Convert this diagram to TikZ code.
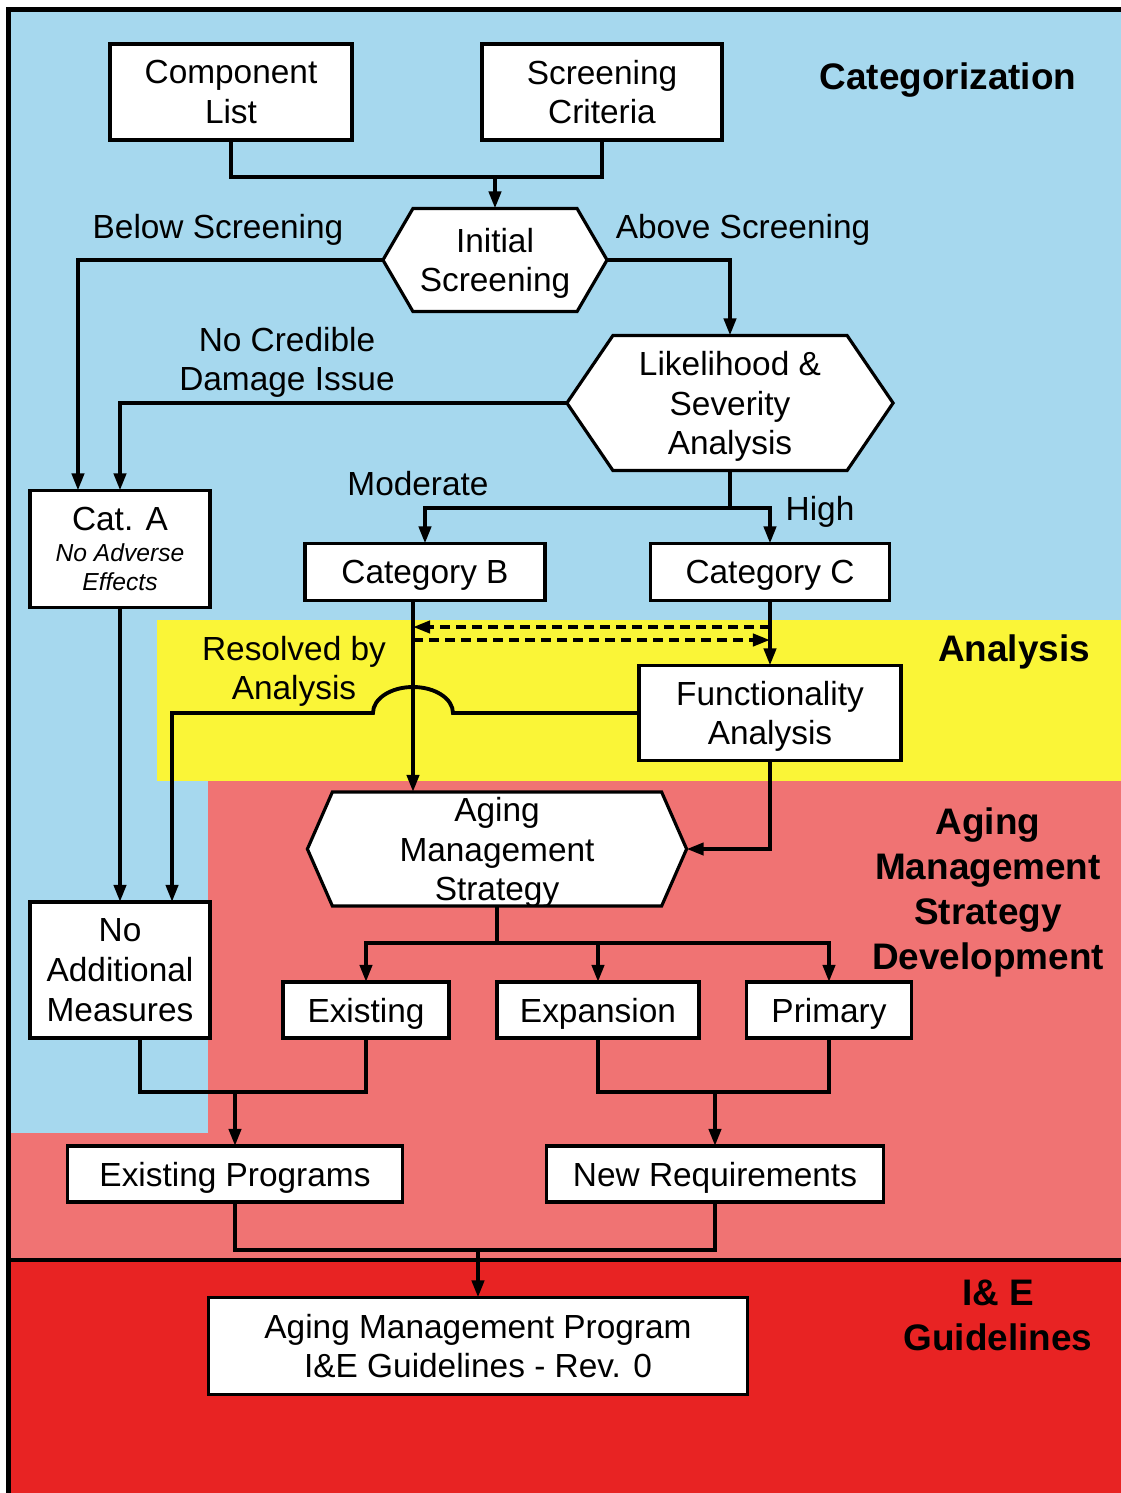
\documentclass[tikz,border=0pt]{standalone}
\usepackage{fontspec}
\setmainfont{Liberation Sans}
\usepackage{xcolor}
\usetikzlibrary{arrows.meta}

\definecolor{catblue}{RGB}{166,216,238}
\definecolor{anayellow}{RGB}{250,245,55}
\definecolor{amsred}{RGB}{240,115,115}
\definecolor{iered}{RGB}{232,35,35}

\pgfdeclarelayer{bands}
\pgfdeclarelayer{hexes}
\pgfsetlayers{bands,hexes,main}

% hexagon outline behind a named node
\newcommand\hexframe[2]{%
  \begin{pgfonlayer}{hexes}
    \filldraw[fill=white,line width=0.9pt] (#1.west) -- ([xshift=#2]#1.north west) -- ([xshift=-#2]#1.north east)
      -- (#1.east) -- ([xshift=-#2]#1.south east) -- ([xshift=#2]#1.south west) -- cycle;
  \end{pgfonlayer}}

\begin{document}
\begin{tikzpicture}[x=0.01cm,y=-0.01cm,
  box/.style={draw,fill=white,line width=0.9pt,inner sep=0pt,outer sep=0pt,align=center,text depth=0pt,font=\fontsize{9.5}{11.3}\selectfont},
  hexa/.style={inner sep=0pt,outer sep=0pt,align=center,text depth=0pt,font=\fontsize{9.5}{11.3}\selectfont},
  lbl/.style={align=center,text depth=0pt,font=\fontsize{9.5}{11.3}\selectfont},
  title/.style={align=center,text depth=0pt,font=\fontsize{10.5}{12.8}\selectfont\bfseries},
  conn/.style={line width=1.1pt},
  arr/.style={conn,-{Triangle[length=0.17cm,width=0.12cm]}}]
  \useasboundingbox (0,0) rectangle (1121,1493);

  % bands
  \begin{pgfonlayer}{bands}
    \fill[white] (0,0) rectangle (1121,1493);
    \fill[catblue] (11,11) rectangle (1121,620);
    \fill[catblue] (11,620) rectangle (208,1133);
    \fill[anayellow] (157,620) rectangle (1121,781);
    \fill[amsred] (208,781) rectangle (1121,1260);
    \fill[amsred] (11,1133) rectangle (208,1260);
    \fill[iered] (11,1260) rectangle (1121,1493);
    \draw[conn] (11,1260) -- (1121,1260);
    \draw[line width=1.6pt] (8.5,1493) -- (8.5,9.5) -- (1121,9.5);
  \end{pgfonlayer}

  % section titles
  \node[title] (tcat) at (948,76) {Categorization};
  \node[title] (tana) at (1014,648) {Analysis};
  \node[title] (tams) at (988,889) {Aging\\Management\\Strategy\\Development};
  \node[title] (tie)  at (998,1315) {I\& E\\Guidelines};

  % categorization
  \node[box,minimum width=2.42cm,minimum height=0.96cm] (comp) at (231,92) {Component\\List};
  \node[box,minimum width=2.40cm,minimum height=0.96cm] (crit) at (602,92) {Screening\\Criteria};
  \node[hexa,minimum width=2.24cm,minimum height=1.03cm] (init) at (495,260) {Initial\\Screening};
  \hexframe{init}{0.30cm}
  \node[hexa,minimum width=3.26cm,minimum height=1.35cm] (like) at (730,403) {Likelihood \&\\Severity\\Analysis};
  \hexframe{like}{0.46cm}
  \node[box,minimum width=1.80cm,minimum height=1.17cm] (catA) at (120,549)
    {Cat. A\\[-2.5pt]{\fontsize{7}{8.5}\selectfont\itshape No Adverse}\\[-3.1pt]{\fontsize{7}{8.5}\selectfont\itshape Effects}};
  \node[box,minimum width=2.40cm,minimum height=0.57cm] (catB) at (425,572) {Category B};
  \node[box,minimum width=2.39cm,minimum height=0.57cm] (catC) at (770,572) {Category C};

  \node[lbl] (lbelow) at (218,226) {Below Screening};
  \node[lbl] (labove) at (743,226) {Above Screening};
  \node[lbl] (lnocred) at (287,359) {No Credible\\Damage Issue};
  \node[lbl] (lmod) at (418,483) {Moderate};
  \node[lbl] (lhigh) at (820,508) {High};

  % analysis
  \node[box,minimum width=2.62cm,minimum height=0.95cm] (func) at (770,713) {Functionality\\Analysis};
  \node[lbl] (lresolved) at (294,668) {Resolved by\\Analysis};

  % aging management strategy
  \node[hexa,minimum width=3.79cm,minimum height=1.14cm] (ams) at (497,849) {Aging\\Management\\Strategy};
  \hexframe{ams}{0.25cm}
  \node[box,minimum width=1.80cm,minimum height=1.36cm] (nam) at (120,970) {No\\Additional\\Measures};
  \node[box,minimum width=1.66cm,minimum height=0.56cm] (exist) at (366,1010) {Existing};
  \node[box,minimum width=2.02cm,minimum height=0.56cm] (expan) at (598,1010) {Expansion};
  \node[box,minimum width=1.65cm,minimum height=0.56cm] (prim) at (829,1010) {Primary};
  \node[box,minimum width=3.34cm,minimum height=0.56cm] (eprog) at (235,1174) {Existing Programs};
  \node[box,minimum width=3.37cm,minimum height=0.56cm] (newreq) at (715,1174) {New Requirements};

  % guidelines
  \node[box,minimum width=5.38cm,minimum height=0.97cm] (amp) at (478,1346) {Aging Management Program\\I\&E Guidelines - Rev. 0};

  % connectors
  \coordinate (j1) at (495,177);
  \draw[conn] (comp.south) |- (j1) -| (crit.south);
  \draw[arr] (j1) -- (init.north);
  \draw[arr] (init.west) -| ([xshift=-0.42cm]catA.north);
  \draw[arr] (init.east) -| (like.north);
  \draw[arr] (like.west) -| (catA.north);
  \coordinate (j2) at (730,508);
  \draw[conn] (like.south) -- (j2);
  \draw[arr] (j2) -| (catB.north);
  \draw[arr] (j2) -| (catC.north);

  \coordinate (bdown) at ([xshift=-0.12cm]catB.south);
  \draw[arr] (bdown) -- (bdown |- ams.north);
  \draw[arr] (catC.south) -- (func.north);
  \coordinate (dcr) at (770,627); \coordinate (dbl) at (413,627);
  \coordinate (dbr) at (413,640); \coordinate (dcl) at (770,640);
  \draw[arr,dash pattern=on 0.1cm off 0.06cm] (dcr) -- (dbl);
  \draw[arr,dash pattern=on 0.1cm off 0.06cm] (dbr) -- (dcl);

  \draw[arr] (func.west) -- (453,713) arc[start angle=0,end angle=180,x radius=0.40cm,y radius=0.26cm]
    -| ([xshift=0.52cm]nam.north);
  \draw[arr] (func.south) |- (ams.east);
  \draw[arr] (catA.south) -- (nam.north);

  \coordinate (j3) at (497,943);
  \draw[conn] (ams.south) -- (j3);
  \draw[arr] (j3) -| (exist.north);
  \draw[arr] (j3) -| (prim.north);
  \draw[arr] (expan.north |- j3) -- (expan.north);

  \coordinate (nout) at ([xshift=0.20cm]nam.south);
  \coordinate (j4) at (235,1092);
  \draw[conn] (nout) |- (j4) -| (exist.south);
  \draw[arr] (j4) -- (eprog.north);
  \coordinate (j5) at (715,1092);
  \draw[conn] (expan.south) |- (j5) -| (prim.south);
  \draw[arr] (j5) -- (newreq.north);
  \coordinate (j6) at (478,1250);
  \draw[conn] (eprog.south) |- (j6) -| (newreq.south);
  \draw[arr] (j6) -- (amp.north);
\end{tikzpicture}
\end{document}
